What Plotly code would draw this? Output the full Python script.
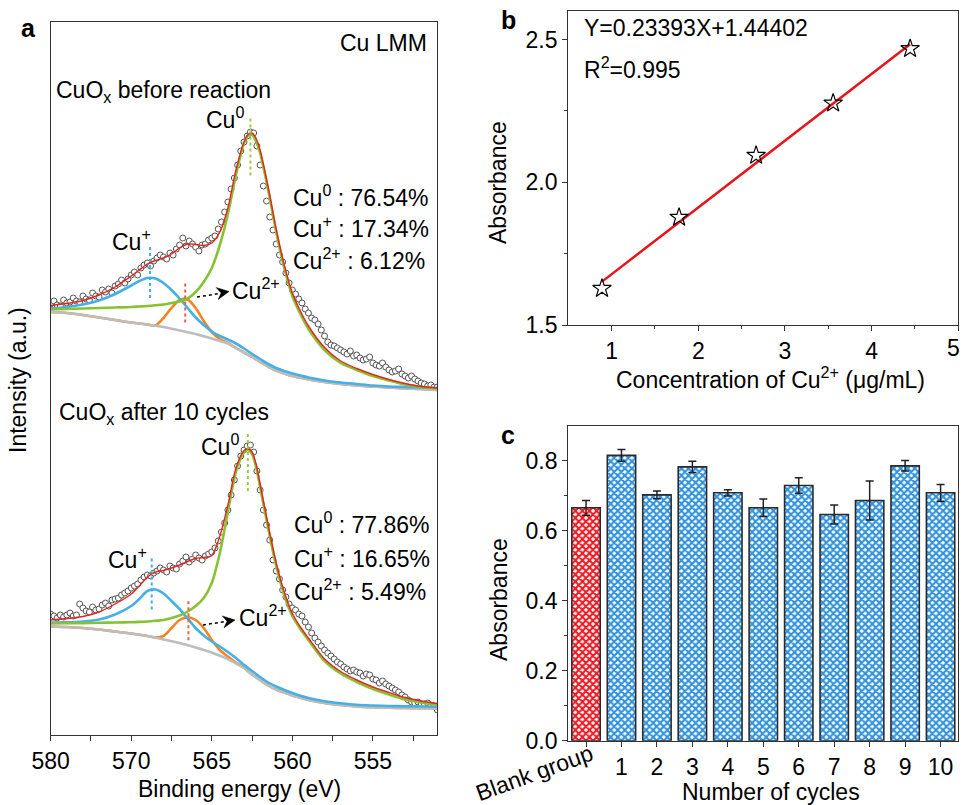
import plotly.graph_objects as go

W, H = 963, 805
FONT = "Liberation Sans, Arial, sans-serif"
FS = 23

# ---------------- panel a : Cu LMM spectra (intensity in a.u.) ----------------
E_FIT = [575, 574, 573, 572, 571, 570, 569.5, 569, 568.5, 568, 567.5, 567, 566.5, 566,
         565.5, 565, 564.5, 564, 563.5, 563, 562.75, 562.5, 562.25, 562, 561.5, 561,
         560.5, 560, 559.5, 559, 558, 557, 556, 555, 554, 553, 552, 551]

TOP_BG = [10.3, 10.2, 10.0, 9.75, 9.5, 9.25, 9.15, 9.05, 8.93, 8.8, 8.63, 8.45, 8.28, 8.1,
          7.88, 7.65, 7.4, 7.15, 6.7, 6.25, 6.02, 5.8, 5.55, 5.3, 4.85, 4.45,
          4.15, 3.9, 3.72, 3.55, 3.3, 3.1, 2.95, 2.85, 2.75, 2.65, 2.6, 2.5]
TOP_CU1 = [10.65, 10.8, 11.05, 11.45, 12.1, 12.95, 13.4, 13.7, 13.65, 13.2, 12.5, 11.65, 10.7, 9.75,
           9.0, 8.35, 7.9, 7.55, 7.15, 6.65, 6.38, 6.1, 5.85, 5.6, 5.1, 4.7,
           4.4, 4.15, 3.95, 3.75, 3.45, 3.25, 3.1, 2.95, 2.85, 2.8, 2.75, 2.7]
TOP_CU2 = [10.3, 10.2, 10.0, 9.75, 9.5, 9.25, 9.15, 9.05, 8.95, 9.7, 10.7, 11.5, 11.55, 10.7,
           9.4, 8.3, 7.6, 7.2, 6.7, 6.25, 6.02, 5.8, 5.55, 5.3, 4.85, 4.45,
           4.15, 3.9, 3.72, 3.55, 3.3, 3.1, 2.95, 2.85, 2.75, 2.65, 2.6, 2.5]
TOP_CU0 = [10.55, 10.6, 10.65, 10.7, 10.75, 10.8, 10.85, 10.9, 10.97, 11.05, 11.2, 11.35, 11.65, 12.3,
           13.3, 14.7, 17.0, 20.1, 24.0, 27.2, 27.95, 28.05, 27.35, 26.2, 22.5, 18.3,
           14.7, 11.9, 10.1, 8.6, 6.5, 5.2, 4.5, 3.9, 3.45, 3.05, 2.8, 2.65]
TOP_ENV = [10.95, 11.15, 11.45, 12.0, 12.8, 13.9, 14.5, 15.1, 15.45, 15.7, 16.1, 16.7, 17.1, 17.05,
           16.95, 17.2, 18.3, 20.7, 24.5, 27.3, 28.05, 28.2, 27.65, 26.5, 22.8, 18.6,
           15.0, 12.2, 10.4, 8.9, 6.75, 5.4, 4.65, 4.05, 3.55, 3.15, 2.85, 2.7]

BOT_BG = [10.85, 10.8, 10.7, 10.55, 10.35, 10.15, 10.03, 9.9, 9.73, 9.55, 9.38, 9.2, 8.98, 8.75,
          8.5, 8.25, 7.93, 7.6, 7.15, 6.7, 6.38, 6.05, 5.78, 5.5, 4.95, 4.55,
          4.25, 3.95, 3.72, 3.5, 3.2, 3.0, 2.85, 2.77, 2.72, 2.7, 2.67, 2.65]
BOT_CU1 = [11.25, 11.27, 11.35, 11.55, 12.05, 12.9, 13.6, 14.4, 14.55, 14.15, 13.4, 12.6, 11.65, 10.7,
           9.95, 9.35, 8.85, 8.3, 7.7, 7.0, 6.7, 6.4, 6.1, 5.8, 5.25, 4.85,
           4.5, 4.2, 3.93, 3.7, 3.37, 3.17, 3.02, 2.95, 2.9, 2.87, 2.85, 2.83]
BOT_CU2 = [10.85, 10.8, 10.7, 10.55, 10.35, 10.15, 10.03, 9.9, 9.75, 9.9, 10.7, 11.5, 11.77, 11.5,
           10.7, 9.5, 8.5, 7.85, 7.25, 6.72, 6.38, 6.05, 5.78, 5.5, 4.95, 4.55,
           4.25, 3.95, 3.72, 3.5, 3.2, 3.0, 2.85, 2.77, 2.72, 2.7, 2.67, 2.65]
BOT_CU0 = [11.15, 11.17, 11.19, 11.22, 11.25, 11.28, 11.31, 11.35, 11.42, 11.5, 11.7, 11.95, 12.35, 12.9,
           13.7, 15.2, 18.2, 22.3, 26.3, 28.3, 28.5, 28.1, 26.8, 24.8, 20.7, 16.9,
           14.0, 11.9, 10.6, 9.5, 7.4, 6.15, 5.3, 4.6, 4.05, 3.55, 3.25, 3.0]
BOT_ENV = [11.5, 11.65, 11.85, 12.3, 13.1, 14.1, 14.9, 15.8, 16.3, 16.45, 16.7, 17.0, 17.35, 17.65,
           17.75, 17.95, 19.9, 23.0, 26.7, 28.45, 28.65, 28.3, 27.1, 25.1, 21.0, 17.2,
           14.3, 12.15, 10.8, 9.7, 7.6, 6.35, 5.5, 4.8, 4.25, 3.75, 3.4, 3.15]

E_DATA = [575.0, 574.8, 574.6, 574.4, 574.2, 574.0, 573.8, 573.6, 573.4, 573.2,
          573.0, 572.8, 572.6, 572.4, 572.2, 572.0, 571.8, 571.6, 571.4, 571.2,
          571.0, 570.8, 570.6, 570.4, 570.2, 570.0, 569.8, 569.6, 569.4, 569.2,
          569.0, 568.8, 568.6, 568.4, 568.2, 568.0, 567.8, 567.6, 567.4, 567.2,
          567.0, 566.8, 566.6, 566.4, 566.2, 566.0, 565.8, 565.6, 565.4, 565.2,
          565.0, 564.8, 564.6, 564.4, 564.2, 564.0, 563.8, 563.6, 563.4, 563.2,
          563.0, 562.8, 562.6, 562.4, 562.2, 562.0, 561.8, 561.6, 561.4, 561.2,
          561.0, 560.8, 560.6, 560.4, 560.2, 560.0, 559.8, 559.6, 559.4, 559.2,
          559.0, 558.8, 558.6, 558.4, 558.2, 558.0, 557.8, 557.6, 557.4, 557.2,
          557.0, 556.8, 556.6, 556.4, 556.2, 556.0, 555.8, 555.6, 555.4, 555.2,
          555.0, 554.8, 554.6, 554.4, 554.2, 554.0, 553.8, 553.6, 553.4, 553.2,
          553.0, 552.8, 552.6, 552.4, 552.2, 552.0, 551.8, 551.6, 551.4, 551.2,
          551.0]
TOP_DATA = [11.1, 11.4, 11.0, 10.9, 11.5, 11.2, 11.3, 11.7, 11.4, 11.3,
            11.9, 11.6, 11.5, 12.2, 11.9, 11.8, 12.5, 12.3, 12.6, 12.2,
            12.9, 13.1, 13.5, 13.2, 13.6, 14.0, 14.3, 14.0, 14.7, 15.0,
            15.2, 14.9, 15.4, 15.7, 16.0, 15.8, 15.6, 16.2, 16.0, 16.6,
            17.0, 17.7, 16.9, 17.4, 17.1, 16.8, 16.4, 17.0, 17.1, 17.5,
            17.7, 17.9, 18.6, 19.3, 20.3, 21.3, 22.6, 23.7, 25.0, 26.4,
            27.3, 27.9, 28.3, 28.2, 26.9, 25.0, 22.9, 21.4, 19.8, 18.5,
            17.1, 16.0, 15.3, 14.2, 13.2, 12.5, 12.1, 11.6, 11.2, 10.6,
            10.2, 9.7, 9.5, 9.1, 8.5, 7.9, 7.3, 7.0, 6.9, 6.7,
            6.5, 6.3, 6.1, 6.4, 5.9, 6.0, 5.7, 5.5, 5.6, 5.8,
            5.2, 5.0, 4.9, 5.2, 4.8, 4.5, 4.3, 4.4, 4.6, 4.1,
            3.9, 3.7, 3.9, 3.6, 3.4, 3.2, 3.1, 2.9, 3.0, 2.8,
            2.8]
BOT_DATA = [12.1, 11.9, 11.7, 12.0, 11.8, 12.0, 12.2, 11.9, 12.0, 13.1,
            12.7, 12.4, 12.3, 12.8, 12.5, 12.6, 13.0, 13.2, 12.9, 13.5,
            13.6, 13.7, 14.0, 14.2, 14.4, 14.7, 14.9, 15.1, 15.5, 15.8,
            16.0, 15.9, 16.2, 16.4, 16.7, 16.5, 16.3, 16.9, 16.7, 16.6,
            17.1, 17.4, 17.8, 17.3, 17.6, 18.0, 17.7, 17.5, 17.9, 18.1,
            18.3, 18.7, 19.4, 20.3, 21.2, 22.5, 24.0, 25.5, 26.9, 27.9,
            28.5, 28.9, 29.0, 28.3, 26.4, 24.5, 22.5, 21.0, 19.5, 17.5,
            16.4, 15.6, 14.5, 13.8, 13.1, 12.7, 12.5, 12.1, 11.9, 11.3,
            10.8, 10.2, 9.7, 9.3, 8.9, 8.5, 8.2, 7.9, 7.6, 7.3,
            7.1, 6.8, 6.6, 6.4, 6.5, 6.3, 6.2, 5.9, 6.1, 6.0,
            5.6, 5.5, 5.2, 5.4, 5.1, 4.9, 4.7, 4.5, 4.3, 4.0,
            3.8, 3.5, 3.3, 3.2, 3.3, 3.1, 3.1, 3.2, 3.0, 2.9,
            2.5]
assert len(E_DATA) == len(TOP_DATA) == len(BOT_DATA)

SPECIES = ["Cu<sup>0</sup>", "Cu<sup>+</sup>", "Cu<sup>2+</sup>"]
TOP_SHARES = ["76.54%", "17.34%", "6.12%"]
BOT_SHARES = ["77.86%", "16.65%", "5.49%"]
TOP_PEAKS = [562.6, 568.83, 566.65]   # Cu0, Cu+, Cu2+ (eV, axis scale)
BOT_PEAKS = [562.76, 568.73, 566.45]
XA_TICKVALS = [575, 570, 565, 560, 555]
XA_TICKTEXT = ["580", "570", "565", "560", "555"]

# ---------------- panel b : calibration ----------------
CONC = [0.889, 1.778, 2.667, 3.556, 4.444]
ABS_B = [1.628, 1.877, 2.094, 2.277, 2.468]
SLOPE, INTERCEPT, R2 = 0.23393, 1.44402, 0.995
XB_TICKS = [1, 2, 3, 4, 5]

# ---------------- panel c : cycles ----------------
CYCLE_CATS = ["Blank group", "1", "2", "3", "4", "5", "6", "7", "8", "9", "10"]
ABS_C = [0.666, 0.816, 0.703, 0.783, 0.709, 0.666, 0.730, 0.647, 0.687, 0.786, 0.709]
ERR_C = [0.021, 0.017, 0.011, 0.016, 0.009, 0.025, 0.022, 0.027, 0.056, 0.015, 0.024]

# ---------------- styles ----------------
OFFSET = 32.0
C_BG, C_CU2, C_CU1, C_CU0, C_ENV = "#bdbdbd", "#f28522", "#45b0e8", "#86c232", "#e8231e"
DOT_COL = ["#9ccc3c", "#3aaee8", "#e8643a"]
DOT_EXT = [(4.1, 1.6), (2.0, 3.15), (2.3, 1.85)]
AXC = "#333333"


def P(x):
    return x / W


def Q(y):
    return 1 - y / H


fig = go.Figure()


def add_spectrum(data, bg, cu2, cu1, cu0, env, off):
    fig.add_trace(go.Scatter(x=E_DATA, y=[v + off for v in data], mode="markers",
                             marker=dict(symbol="circle", size=6, color="white",
                                         line=dict(color="#555555", width=1)),
                             xaxis="x", yaxis="y", showlegend=False))
    for arr, col, w in [(cu2, C_CU2, 2.6), (bg, C_BG, 2.6), (cu1, C_CU1, 2.6),
                        (cu0, C_CU0, 2.6), (env, C_ENV, 1.4)]:
        fig.add_trace(go.Scatter(x=E_FIT, y=[v + off for v in arr], mode="lines",
                                 line=dict(color=col, width=w, shape="spline", smoothing=0.8),
                                 xaxis="x", yaxis="y", showlegend=False))


add_spectrum(TOP_DATA, TOP_BG, TOP_CU2, TOP_CU1, TOP_CU0, TOP_ENV, OFFSET)
add_spectrum(BOT_DATA, BOT_BG, BOT_CU2, BOT_CU1, BOT_CU0, BOT_ENV, 0.0)

shapes = []
for peaks, comps, off in [(TOP_PEAKS, [TOP_CU0, TOP_CU1, TOP_CU2], OFFSET),
                          (BOT_PEAKS, [BOT_CU0, BOT_CU1, BOT_CU2], 0.0)]:
    for k in range(3):
        top = max(comps[k]) + off
        shapes.append(dict(type="line", xref="x", yref="y", x0=peaks[k], x1=peaks[k],
                           y0=top - DOT_EXT[k][0], y1=top + DOT_EXT[k][1],
                           line=dict(color=DOT_COL[k], width=2, dash="dot")))

# dotted arrows towards Cu2+ labels
for (x0, y0, x1, y1, tip, up, notch, low) in [
        (197, 297, 218, 293.8, (229, 291.5), (216.2, 287.6), (221.1, 292.9), (218.2, 299.4)),
        (203, 625, 224, 621.7, (235, 620), (222.2, 615.9), (227.1, 621.2), (224.0, 627.8))]:
    shapes.append(dict(type="line", xref="paper", yref="paper", x0=P(x0), y0=Q(y0),
                       x1=P(x1), y1=Q(y1), line=dict(color="black", width=1.5, dash="dot")))
    path = "M {} {} L {} {} L {} {} L {} {} Z".format(P(tip[0]), Q(tip[1]), P(up[0]), Q(up[1]),
                                                     P(notch[0]), Q(notch[1]), P(low[0]), Q(low[1]))
    shapes.append(dict(type="path", xref="paper", yref="paper", path=path,
                       fillcolor="black", line=dict(color="black", width=0.5)))

# panel b
fig.add_trace(go.Scatter(x=[CONC[0], CONC[-1]],
                         y=[SLOPE * CONC[0] + INTERCEPT, SLOPE * CONC[-1] + INTERCEPT],
                         mode="lines", line=dict(color="#e8141c", width=2.5),
                         xaxis="x2", yaxis="y2", showlegend=False))
fig.add_trace(go.Scatter(x=CONC, y=ABS_B, mode="markers",
                         marker=dict(symbol="star-open", size=14, color="black",
                                     line=dict(width=1.2)),
                         xaxis="x2", yaxis="y2", showlegend=False))

# panel c
bar_cols = ["#ee1c25"] + ["#3393dc"] * (len(CYCLE_CATS) - 1)
fig.add_trace(go.Bar(x=CYCLE_CATS, y=ABS_C, width=0.8,
                     marker=dict(color=bar_cols, line=dict(color="#2a2a2a", width=1.6),
                                 pattern=dict(shape="x", size=5, solidity=0.65,
                                              fgcolor=bar_cols, bgcolor="white",
                                              fillmode="replace")),
                     error_y=dict(type="data", array=ERR_C, color="#222222",
                                  thickness=1.5, width=4),
                     xaxis="x3", yaxis="y3", showlegend=False))

tickfont = dict(family=FONT, size=FS, color="black")
common = dict(showline=True, mirror=True, linecolor=AXC, linewidth=1.4, showgrid=False,
              zeroline=False, tickfont=tickfont, ticks="outside", ticklen=5,
              tickwidth=1.3, tickcolor=AXC, automargin=False)

annotations = []


def ann(text, x, y, xanchor="center", size=FS, angle=0, bold=False, yanchor="middle"):
    annotations.append(dict(text="<b>%s</b>" % text if bold else text, x=P(x), y=Q(y),
                            xref="paper", yref="paper", showarrow=False, xanchor=xanchor,
                            yanchor=yanchor, textangle=angle,
                            font=dict(family=FONT, size=size, color="black")))


# panel a texts
ann("a", 28, 28, size=25, bold=True)
ann("Cu LMM", 429, 43, xanchor="right")
ann("CuO<sub>x</sub> before reaction", 54, 91, xanchor="left")
ann("CuO<sub>x</sub> after 10 cycles", 57, 413, xanchor="left")
ann(SPECIES[0], 225, 118)
ann(SPECIES[0], 220, 445)
ann(SPECIES[1], 131.5, 240)
ann(SPECIES[1], 127.5, 558)
ann(SPECIES[2], 256, 289)
ann(SPECIES[2], 263, 616)
for i in range(3):
    ann("%s : %s" % (SPECIES[i], TOP_SHARES[i]), 291, 196 + 31.5 * i, xanchor="left")
    ann("%s : %s" % (SPECIES[i], BOT_SHARES[i]), 292, 523 + 33.5 * i, xanchor="left")
ann("Intensity (a.u.)", 18, 380, angle=-90)
ann("Binding energy (eV)", 239, 789)

# panel b texts
ann("b", 508, 20, size=25, bold=True)
ann("Y=%.5fX+%.5f" % (SLOPE, INTERCEPT), 582, 28, xanchor="left")
ann("R<sup>2</sup>=%.3f" % R2, 582, 68, xanchor="left")
ann("Absorbance", 498, 182, angle=-90)
ann("Concentration of Cu<sup>2+</sup> (μg/mL)", 770, 378)
# last x tick label of panel b sits at the page edge: keep it inside
ann(str(XB_TICKS[-1]), 962, 333, xanchor="right", yanchor="top")

# panel c texts
ann("c", 508, 435, size=25, bold=True)
ann("Absorbance", 499, 600, angle=-90)
ann("Number of cycles", 771, 792)
ann(CYCLE_CATS[0], 534, 773, angle=-20)

fig.update_layout(
    width=W, height=H, margin=dict(l=0, r=0, t=0, b=0, pad=0, autoexpand=False),
    plot_bgcolor="white", paper_bgcolor="white", showlegend=False,
    font=dict(family=FONT, size=FS, color="black"),
    xaxis=dict(domain=[P(50.7), P(437.3)], anchor="y", range=[575, 551],
               tickmode="array", tickvals=XA_TICKVALS, ticktext=XA_TICKTEXT,
               minor=dict(tickmode="array", tickvals=[572.5, 567.5, 562.5, 557.5, 552.5],
                          ticks="outside", ticklen=5, tickwidth=1.3, tickcolor=AXC),
               **common),
    yaxis=dict(domain=[Q(735), Q(22)], anchor="x", range=[0, 71.3],
               showline=True, mirror=True, linecolor=AXC, linewidth=1.4, showgrid=False,
               zeroline=False, showticklabels=False, ticks="", automargin=False),
    xaxis2=dict(domain=[P(568.3), P(958.3)], anchor="y2", range=[0.5, 5.0001],
                tickmode="array", tickvals=XB_TICKS,
                ticktext=[str(v) for v in XB_TICKS[:-1]] + [""],
                minor=dict(tickmode="array", tickvals=[1.5, 2.5, 3.5, 4.5],
                           ticks="outside", ticklen=3, tickwidth=1.2, tickcolor=AXC),
                **common),
    yaxis2=dict(domain=[Q(325), Q(11)], anchor="x2", range=[1.5, 2.6],
                tickmode="array", tickvals=[1.5, 2.0, 2.5], ticktext=["1.5", "2.0", "2.5"],
                minor=dict(tickmode="array", tickvals=[1.75, 2.25],
                           ticks="outside", ticklen=3, tickwidth=1.2, tickcolor=AXC),
                **common),
    xaxis3=dict(domain=[P(568.3), P(958.3)], anchor="y3", type="category",
                range=[-0.5, 10.5], tickmode="array", tickvals=CYCLE_CATS,
                ticktext=[""] + CYCLE_CATS[1:], **common),
    yaxis3=dict(domain=[Q(740.7), Q(426)], anchor="x3", range=[0, 0.9],
                tickmode="array", tickvals=[0, 0.2, 0.4, 0.6, 0.8],
                ticktext=["0.0", "0.2", "0.4", "0.6", "0.8"],
                minor=dict(tickmode="array", tickvals=[0.1, 0.3, 0.5, 0.7],
                           ticks="outside", ticklen=3, tickwidth=1.2, tickcolor=AXC),
                **common),
    shapes=shapes, annotations=annotations,
)

fig.write_html("out.html")
